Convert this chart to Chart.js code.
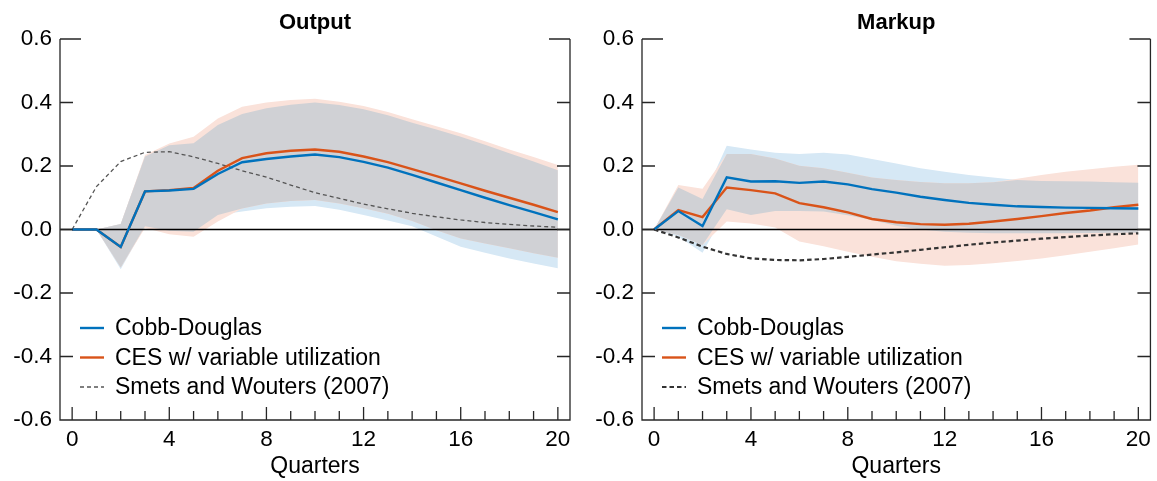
<!DOCTYPE html>
<html>
<head>
<meta charset="utf-8">
<title>Output and Markup responses</title>
<script src="https://cdn.jsdelivr.net/npm/chart.js@4.4.1/dist/chart.umd.min.js"></script>
<style>
    html, body { margin: 0; padding: 0; background: #fff; }
    #wrap { position: relative; width: 1157px; height: 481px; }
    #left { position: absolute; left: 0; top: 0; }
    #right { position: absolute; left: 580px; top: 0; }
</style>
</head>
<body>
<div id="wrap">
    <canvas id="left" width="580" height="481"></canvas>
    <canvas id="right" width="577" height="481"></canvas>
</div>
<script>
// 横轴：季度
const quarters = [0, 1, 2, 3, 4, 5, 6, 7, 8, 9, 10, 11, 12, 13, 14, 15, 16, 17, 18, 19, 20];
const xTickLabels = [0, 4, 8, 12, 16, 20];
const yTickValues = [-0.6, -0.4, -0.2, 0, 0.2, 0.4, 0.6];

// Output 面板
const outCD = [0, 0, -0.055, 0.120, 0.123, 0.128, 0.175, 0.212, 0.222, 0.230, 0.236, 0.228, 0.213, 0.195, 0.172, 0.148, 0.124, 0.100, 0.077, 0.055, 0.032];
const outCES = [0, 0, -0.055, 0.120, 0.124, 0.131, 0.185, 0.225, 0.240, 0.248, 0.252, 0.245, 0.230, 0.212, 0.190, 0.168, 0.145, 0.122, 0.100, 0.078, 0.055];
const outSW = [0, 0.135, 0.214, 0.243, 0.245, 0.229, 0.208, 0.185, 0.165, 0.140, 0.116, 0.098, 0.080, 0.065, 0.051, 0.040, 0.030, 0.022, 0.016, 0.011, 0.007];
const outCDHi = [0, 0, 0.017, 0.230, 0.265, 0.272, 0.329, 0.364, 0.382, 0.393, 0.400, 0.392, 0.379, 0.360, 0.336, 0.315, 0.292, 0.267, 0.240, 0.214, 0.187];
const outCDLo = [0, 0, -0.125, 0.010, -0.004, -0.007, 0.046, 0.057, 0.067, 0.072, 0.074, 0.062, 0.046, 0.028, 0.010, -0.022, -0.054, -0.073, -0.091, -0.107, -0.122];
const outCESHi = [0, 0, 0.017, 0.235, 0.271, 0.292, 0.350, 0.387, 0.400, 0.408, 0.412, 0.402, 0.389, 0.370, 0.347, 0.325, 0.303, 0.278, 0.252, 0.228, 0.203];
const outCESLo = [0, 0, -0.120, 0.005, -0.015, -0.023, 0.025, 0.066, 0.082, 0.090, 0.093, 0.082, 0.067, 0.050, 0.027, -0.002, -0.028, -0.044, -0.059, -0.075, -0.089];

// Markup 面板
const mkCD = [0, 0.058, 0.011, 0.164, 0.151, 0.152, 0.147, 0.151, 0.142, 0.127, 0.116, 0.103, 0.093, 0.084, 0.078, 0.073, 0.071, 0.069, 0.068, 0.067, 0.066];
const mkCES = [0, 0.061, 0.039, 0.132, 0.124, 0.114, 0.083, 0.070, 0.054, 0.033, 0.023, 0.017, 0.015, 0.018, 0.025, 0.033, 0.042, 0.052, 0.060, 0.070, 0.078];
const mkSW = [0, -0.025, -0.054, -0.077, -0.091, -0.096, -0.097, -0.093, -0.086, -0.079, -0.072, -0.064, -0.056, -0.048, -0.041, -0.035, -0.029, -0.024, -0.019, -0.015, -0.012];
const mkCDHi = [0, 0.132, 0.096, 0.264, 0.252, 0.242, 0.238, 0.242, 0.236, 0.222, 0.208, 0.193, 0.182, 0.172, 0.164, 0.156, 0.153, 0.152, 0.151, 0.149, 0.147];
const mkCDLo = [0, -0.022, -0.073, 0.064, 0.046, 0.058, 0.058, 0.057, 0.045, 0.030, 0.012, 0.000, -0.007, -0.010, -0.012, -0.012, -0.012, -0.012, -0.011, -0.010, -0.010];
const mkCESHi = [0, 0.140, 0.128, 0.238, 0.238, 0.224, 0.201, 0.193, 0.179, 0.164, 0.156, 0.150, 0.146, 0.146, 0.149, 0.160, 0.172, 0.182, 0.190, 0.198, 0.204];
const mkCESLo = [0, -0.017, -0.049, 0.025, 0.019, 0.006, -0.038, -0.053, -0.070, -0.086, -0.100, -0.108, -0.114, -0.112, -0.106, -0.099, -0.091, -0.081, -0.070, -0.059, -0.047];

const seriesNames = ['Cobb-Douglas', 'CES w/ variable utilization', 'Smets and Wouters (2007)'];

const BLUE = '#0072BD';
const ORANGE = '#D95319';
const BAND_BLUE = 'rgb(214, 232, 245)';
const BAND_ORANGE = 'rgb(250, 226, 218)';
const BAND_GRAY = 'rgb(208, 209, 213)';
const AXIS = '#262626';
const FONT = '"Liberation Sans", Arial, Helvetica, sans-serif';

Chart.defaults.font.family = FONT;
Chart.defaults.color = '#000';

function toXY(arr) {
    return quarters.map((q, i) => ({ x: q, y: arr[i] }));
}

// 坐标框、向内刻度、零线和图例
const framePlugin = {
    id: 'frame',
    afterDatasetDraw(chart, args) {
        if (args.index !== 3) return;
        const ctx = chart.ctx;
        const area = chart.chartArea;
        const y0 = chart.scales.y.getPixelForValue(0);
        ctx.save();
        ctx.strokeStyle = '#000';
        ctx.lineWidth = 1.3;
        ctx.beginPath();
        ctx.moveTo(area.left, y0);
        ctx.lineTo(area.right, y0);
        ctx.stroke();
        ctx.restore();
    },
    afterDraw(chart) {
        const ctx = chart.ctx;
        const area = chart.chartArea;
        const xs = chart.scales.x;
        const ys = chart.scales.y;
        ctx.save();
        ctx.strokeStyle = AXIS;
        ctx.lineWidth = 1.3;
        ctx.beginPath();
        ctx.moveTo(area.left, area.top);
        ctx.lineTo(area.left, area.bottom);
        ctx.lineTo(area.right, area.bottom);
        ctx.lineTo(area.right, area.top);
        yTickValues.forEach(v => {
            const y = ys.getPixelForValue(v);
            const len = v === 0.6 ? 21 : 13;
            ctx.moveTo(area.left, y);
            ctx.lineTo(area.left + len, y);
            ctx.moveTo(area.right, y);
            ctx.lineTo(area.right - len, y);
        });
        quarters.forEach(q => {
            const x = xs.getPixelForValue(q);
            const len = q % 4 === 0 ? 13 : 9;
            ctx.moveTo(x, area.bottom);
            ctx.lineTo(x, area.bottom - len);
        });
        ctx.stroke();

        // 图例
        const items = chart.data.datasets.slice(0, 3);
        ctx.font = '23px ' + FONT;
        ctx.textBaseline = 'middle';
        ctx.textAlign = 'left';
        items.forEach((ds, i) => {
            const y = area.top + 289 + i * 29.5;
            ctx.save();
            ctx.strokeStyle = ds.borderColor;
            ctx.lineWidth = ds.borderWidth;
            ctx.setLineDash(ds.borderDash || []);
            ctx.beginPath();
            ctx.moveTo(area.left + 20, y);
            ctx.lineTo(area.left + 44, y);
            ctx.stroke();
            ctx.restore();
            ctx.fillStyle = '#000';
            ctx.fillText(ds.label, area.left + 55, y + 1);
        });
        ctx.restore();
    }
};

function makeChart(id, title, cd, ces, sw, cdHi, cdLo, cesHi, cesLo, swStyle, pad) {
    // 灰色为两条置信带的重叠区域
    const grayHi = cdHi.map((v, i) => Math.min(v, cesHi[i]));
    const grayLo = cdLo.map((v, i) => Math.max(v, cesLo[i]));
    const band = { borderWidth: 0, borderColor: 'rgba(0,0,0,0)', pointRadius: 0, tension: 0 };

    new Chart(document.getElementById(id), {
        type: 'line',
        data: {
            datasets: [
                { label: seriesNames[0], data: toXY(cd), borderColor: BLUE, borderWidth: 2.4, pointRadius: 0, order: 0 },
                { label: seriesNames[1], data: toXY(ces), borderColor: ORANGE, borderWidth: 2.4, pointRadius: 0, order: 1 },
                { label: seriesNames[2], data: toXY(sw), borderColor: swStyle.color, borderWidth: swStyle.width, borderDash: swStyle.dash, pointRadius: 0, order: 2 },
                Object.assign({ data: toXY(grayHi), fill: '+1', backgroundColor: BAND_GRAY, order: 3 }, band),
                Object.assign({ data: toXY(grayLo), fill: false, order: 3 }, band),
                Object.assign({ data: toXY(cesHi), fill: '+1', backgroundColor: BAND_ORANGE, order: 4 }, band),
                Object.assign({ data: toXY(cesLo), fill: false, order: 4 }, band),
                Object.assign({ data: toXY(cdHi), fill: '+1', backgroundColor: BAND_BLUE, order: 5 }, band),
                Object.assign({ data: toXY(cdLo), fill: false, order: 5 }, band)
            ]
        },
        options: {
            responsive: false,
            animation: false,
            layout: { padding: { left: 0, right: pad.right, top: 0, bottom: 0 } },
            plugins: {
                legend: { display: false },
                tooltip: { enabled: false },
                title: {
                    display: true,
                    text: title,
                    fullSize: false,
                    color: '#000',
                    font: { size: 22, weight: 'bold' },
                    padding: { top: 10, bottom: 2.6 }
                }
            },
            scales: {
                x: {
                    type: 'linear',
                    min: -0.5,
                    max: 20.5,
                    afterBuildTicks: s => { s.ticks = xTickLabels.map(v => ({ value: v })); },
                    afterFit: s => { s.height = 61; },
                    grid: { display: false, drawTicks: false },
                    border: { display: false },
                    ticks: { font: { size: 22.5 }, padding: 6, maxRotation: 0, autoSkip: false, color: '#000' },
                    title: { display: true, text: 'Quarters', font: { size: 23 }, color: '#000', padding: { top: 0, bottom: 1 } }
                },
                y: {
                    min: -0.6,
                    max: 0.6,
                    afterBuildTicks: s => { s.ticks = yTickValues.map(v => ({ value: v })); },
                    afterFit: s => { s.width = pad.left; },
                    grid: { display: false, drawTicks: false },
                    border: { display: false },
                    ticks: { font: { size: 22.5 }, padding: 8, color: '#000', callback: v => v.toFixed(1) }
                }
            }
        },
        plugins: [framePlugin]
    });
}

document.addEventListener('DOMContentLoaded', function() {
    makeChart('left', 'Output', outCD, outCES, outSW, outCDHi, outCDLo, outCESHi, outCESLo,
        { color: '#555', width: 1.3, dash: [4, 3] }, { left: 60, right: 10 });
    makeChart('right', 'Markup', mkCD, mkCES, mkSW, mkCDHi, mkCDLo, mkCESHi, mkCESLo,
        { color: '#333', width: 2.2, dash: [4.5, 3] }, { left: 62, right: 6 });
});
</script>
</body>
</html>
